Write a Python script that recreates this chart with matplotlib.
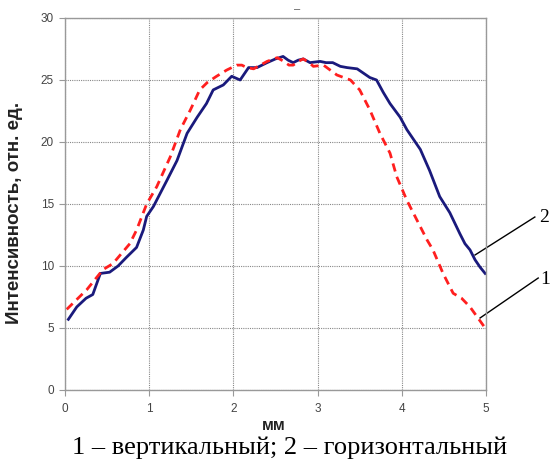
import matplotlib
matplotlib.use('Agg')
import matplotlib.pyplot as plt

# curve 1 - vertical (red dashed)
x1 = [0.02, 0.14, 0.26, 0.45, 0.57, 0.67, 0.77, 0.85, 0.97, 1.09, 1.25, 1.37, 1.49, 1.60, 1.69,
      1.80, 1.92, 2.04, 2.10, 2.16, 2.24, 2.32, 2.40, 2.52, 2.60, 2.66, 2.71, 2.77, 2.83, 2.90,
      2.95, 3.07, 3.15, 3.23, 3.39, 3.50, 3.62, 3.74, 3.86, 3.94, 4.06, 4.18, 4.30, 4.37, 4.49,
      4.61, 4.71, 4.81, 4.99]
y1 = [6.5, 7.3, 8.1, 9.7, 10.2, 11.0, 11.8, 12.9, 15.0, 16.4, 18.8, 21.0, 22.6, 24.2, 24.8,
      25.3, 25.8, 26.2, 26.2, 26.0, 25.9, 26.2, 26.5, 26.8, 26.5, 26.2, 26.2, 26.5, 26.7, 26.4,
      26.1, 26.2, 25.8, 25.4, 25.0, 24.2, 22.6, 20.7, 19.1, 17.2, 15.3, 13.7, 12.1, 11.3, 9.4,
      7.8, 7.4, 6.7, 5.0]

# curve 2 - horizontal (blue solid)
x2 = [0.04, 0.14, 0.25, 0.33, 0.42, 0.53, 0.63, 0.73, 0.85, 0.93, 0.97, 1.05, 1.21, 1.33, 1.45,
      1.57, 1.68, 1.76, 1.88, 1.98, 2.08, 2.18, 2.28, 2.40, 2.50, 2.59, 2.65, 2.71, 2.77, 2.83,
      2.91, 3.03, 3.10, 3.18, 3.27, 3.35, 3.47, 3.62, 3.70, 3.78, 3.86, 3.98, 4.06, 4.22, 4.33,
      4.45, 4.57, 4.69, 4.75, 4.81, 4.87, 4.93, 4.99]
y2 = [5.7, 6.7, 7.4, 7.7, 9.4, 9.5, 10.0, 10.7, 11.5, 12.9, 14.0, 14.8, 16.9, 18.5, 20.7,
      22.0, 23.1, 24.2, 24.6, 25.3, 25.0, 26.0, 26.0, 26.4, 26.7, 26.9, 26.6, 26.4, 26.6, 26.7,
      26.4, 26.5, 26.4, 26.4, 26.1, 26.0, 25.9, 25.2, 25.0, 24.0, 23.1, 22.0, 21.0, 19.4, 17.7,
      15.6, 14.3, 12.6, 11.8, 11.3, 10.5, 9.9, 9.4]

xticks = [0, 1, 2, 3, 4, 5]
yticks = [0, 5, 10, 15, 20, 25, 30]

plt.rcParams['font.family'] = ['Liberation Sans', 'DejaVu Sans']

W, H = 553, 470
fig = plt.figure(figsize=(5.53, 4.70), dpi=100)
ax = fig.add_axes([65 / W, 1 - 390 / H, 421 / W, 372 / H])

ax.plot(x2, y2, color='#1a1a7c', lw=2.0, solid_joinstyle='round')
ax.plot(x1, y1, color='#ff1f1f', lw=2.0, dashes=(3, 2))

ax.set_xlim(0, 5)
ax.set_ylim(0, 30)
ax.set_xticks(xticks)
ax.set_yticks(yticks)
ax.grid(True, color='#888888', linestyle=(0, (1, 1)), lw=0.8)
for s in ax.spines.values():
    s.set_color('#999999')
    s.set_linewidth(1.0)
ax.tick_params(labelcolor='#444444', color='#999999', labelsize=8.5, length=4, width=0.8)
ax.tick_params(axis='x', pad=5)
ax.tick_params(axis='y', pad=4)

fig.text(274 / W, 1 - 426 / H, 'мм', fontsize=11.5, fontweight='bold', color='#222222',
         ha='center', va='center')
fig.text(15 / W, 1 - 213 / H, 'Интенсивность, отн. ед.', fontsize=13.5, fontweight='bold',
         color='#222222', ha='center', va='center', rotation=90)

# leader lines to curve numbers
ax.plot([4.87, 5.58], [10.89, 13.95], color='black', lw=1.0, clip_on=False)
ax.plot([4.93, 5.62], [5.81, 9.03], color='black', lw=1.0, clip_on=False)
ax.text(5.63, 13.9, '2', fontsize=14, family='Liberation Serif', va='center', ha='left')
ax.text(5.64, 8.9, '1', fontsize=14, family='Liberation Serif', va='center', ha='left')

fig.text(297 / W, 1 - 9 / H, '–', fontsize=8, color='#555555', ha='center', va='center')

fig.text(290 / W, 1 - 448 / H, '1 – вертикальный; 2 – горизонтальный', fontsize=19,
         family='Liberation Serif', ha='center', va='center')

fig.savefig('out.png', dpi=100)
